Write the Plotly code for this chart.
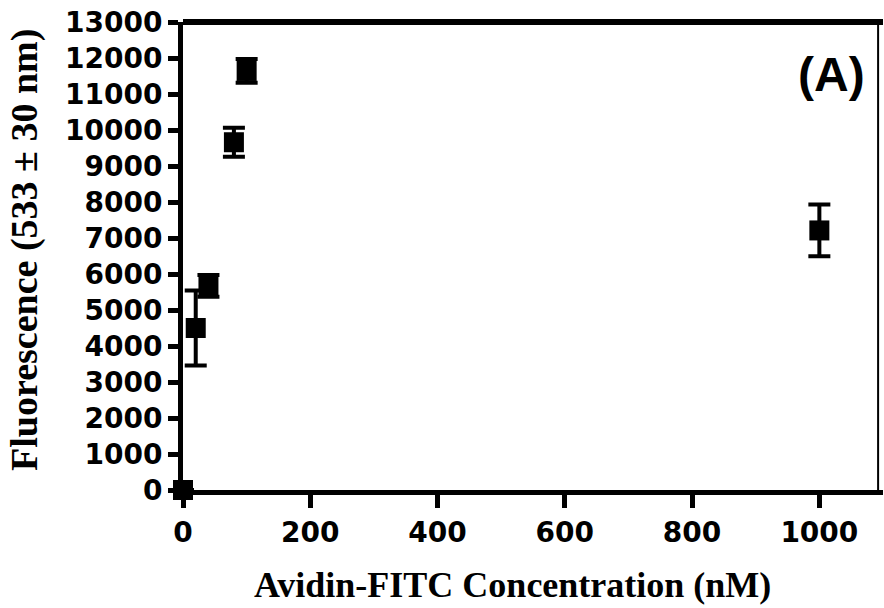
import plotly.graph_objects as go

conc = [0, 20, 40, 80, 100, 1000]
fluor = [0, 4500, 5670, 9660, 11640, 7210]
err = [0, 1040, 300, 400, 330, 720]

x_ticks = [0, 200, 400, 600, 800, 1000]
y_ticks = list(range(0, 13001, 1000))

fig = go.Figure()
fig.add_trace(go.Scatter(
    x=conc, y=fluor, mode="markers",
    marker=dict(symbol="square", size=20, color="black"),
    error_y=dict(type="data", array=err, visible=True, color="black", thickness=4, width=11),
    cliponaxis=False, showlegend=False,
))

tickfont = dict(family="DejaVu Sans", size=28, color="black", weight="bold")
fig.update_layout(
    width=884, height=608,
    margin=dict(l=183, r=1, t=22, b=118),
    plot_bgcolor="white", paper_bgcolor="white",
    xaxis=dict(
        range=[0, 1100], tickvals=x_ticks, ticktext=[f"<b>{v}</b>" for v in x_ticks],
        showgrid=False, zeroline=False, showline=True, linecolor="black", linewidth=5,
        ticks="outside", ticklen=13, tickwidth=5, tickcolor="black",
        tickfont=tickfont,
    ),
    yaxis=dict(
        range=[0, 13000], tickvals=y_ticks, ticktext=[f"<b>{v}</b>" for v in y_ticks],
        showgrid=False, zeroline=False, showline=True, linecolor="black", linewidth=5,
        ticks="outside", ticklen=10, tickwidth=5, tickcolor="black",
        tickfont=tickfont,
    ),
    shapes=[
        dict(type="line", xref="paper", yref="paper", x0=0, x1=1, y0=1, y1=1,
             line=dict(color="black", width=6)),
        dict(type="line", xref="paper", yref="paper", x0=0.993, x1=0.993, y0=0, y1=1,
             line=dict(color="black", width=2)),
    ],
    annotations=[
        dict(text="<b>(A)</b>", xref="paper", yref="paper", x=0.927, y=0.888,
             xanchor="center", yanchor="middle", showarrow=False,
             font=dict(family="Liberation Sans", size=48, color="black")),
        dict(text="<b>Avidin-FITC Concentration (nM)</b>", xref="paper", yref="paper",
             x=0.471, y=-0.203, xanchor="center", yanchor="middle", showarrow=False,
             font=dict(family="Liberation Serif", size=36, color="black")),
        dict(text="<b>Fluorescence (533 ± 30 nm)</b>", xref="paper", yref="paper",
             x=-0.2257, y=0.513, xanchor="center", yanchor="middle", showarrow=False,
             textangle=-90, font=dict(family="Liberation Serif", size=38, color="black")),
    ],
)

fig.write_html("out.html")
